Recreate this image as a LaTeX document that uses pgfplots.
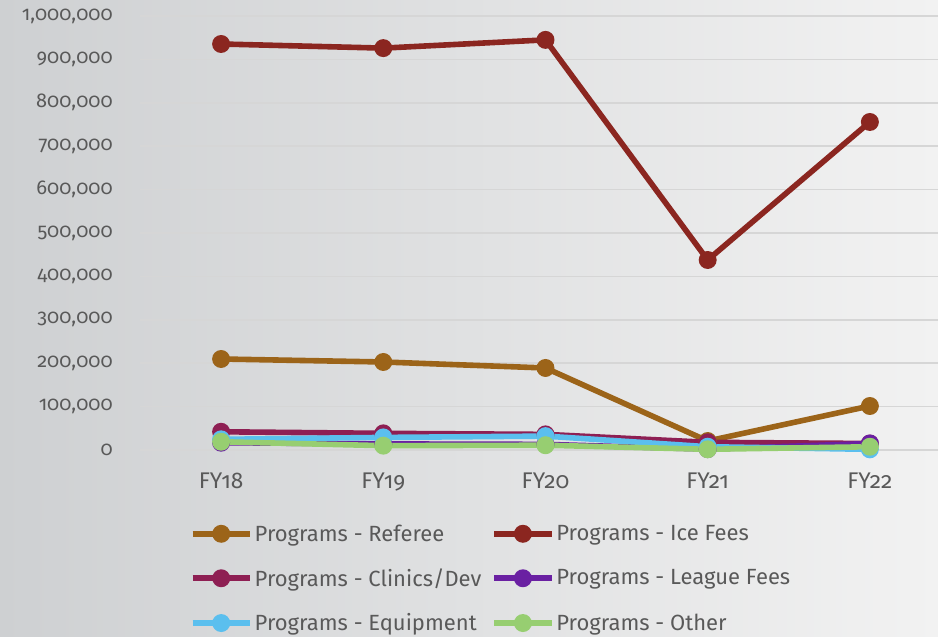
\documentclass[border=0pt]{standalone}
\usepackage{fontspec}
\setmainfont{Fira Sans}[Numbers=OldStyle]
\usepackage{pgfplots}
\pgfplotsset{compat=1.18}
\definecolor{txt}{HTML}{595959}
\definecolor{gridc}{HTML}{D6D6D6}
\definecolor{cRef}{HTML}{9C6419}
\definecolor{cIce}{HTML}{8B2620}
\definecolor{cCli}{HTML}{8E1F53}
\definecolor{cLea}{HTML}{6A20A2}
\definecolor{cEqu}{HTML}{5BBFEE}
\definecolor{cOth}{HTML}{97CE71}
\begin{document}
\begin{tikzpicture}
\useasboundingbox (0,0) rectangle (703.5pt,477pt);
\shade[left color={rgb,255:red,206;green,208;blue,210}, right color={rgb,255:red,242;green,242;blue,242}] (0,0) rectangle (703.5pt,477pt);
\begin{axis}[
  at={(105pt,139.5pt)}, anchor=south west,
  scale only axis, width=598.5pt, height=325.5pt,
  xmin=-0.5, xmax=4.42, ymin=0, ymax=1000000,
  axis line style={draw=none},
  clip=false,
  xtick={0,1,2,3,4},
  xticklabels={FY18,FY19,FY20,FY21,FY22},
  ytick={0,100000,200000,300000,400000,500000,600000,700000,800000,900000,1000000},
  yticklabels={0,{100,000},{200,000},{300,000},{400,000},{500,000},{600,000},{700,000},{800,000},{900,000},{1,000,000}},
  ymajorgrids=true, xmajorgrids=false,
  y grid style={color=gridc, line width=1.1pt},
  major tick length=0pt,
  scaled y ticks=false,
  tick label style={font=\fontsize{15}{18}\selectfont, text=txt},
  yticklabel style={xshift=-17pt},
  xticklabel style={yshift=-14pt, font=\fontsize{17}{20}\selectfont},
  every axis plot/.append style={line width=4.2pt, mark=*, mark size=4.6pt},
  legend columns=2,
  legend style={at={(axis description cs:0.062,-0.165)}, anchor=north west,
    draw=none, fill=none, font=\fontsize{16.5}{19}\selectfont, text=txt,
    inner sep=0pt, row sep=15pt,
    nodes={inner xsep=1.5pt},
    /tikz/every even column/.append style={column sep=6pt}},
  legend cell align=left,
  legend image code/.code={\draw[mark repeat=2,mark phase=2] plot coordinates {(0pt,0pt)(21.5pt,0pt)(43pt,0pt)};},
]
\addplot[cRef] table[x=x,y=y] {
x y
0 209700
1 202800
2 189000
3 20700
4 101400
};
\addlegendentry{Programs - Referee}
\addplot[cIce] table[x=x,y=y] {
x y
0 935500
1 926000
2 945000
3 437800
4 755800
};
\addlegendentry{Programs - Ice Fees}
\addplot[cCli] table[x=x,y=y] {
x y
0 42000
1 38400
2 36000
3 17700
4 15000
};
\addlegendentry{Programs - Clinics/Dev}
\addplot[cLea] table[x=x,y=y] {
x y
0 16800
1 14000
2 13000
3 2000
4 15000
};
\addlegendentry{Programs - League Fees}
\addplot[cEqu] table[x=x,y=y] {
x y
0 24600
1 29000
2 32000
3 7600
4 1500
};
\addlegendentry{Programs - Equipment}
\addplot[cOth] table[x=x,y=y] {
x y
0 19000
1 10000
2 11000
3 1600
4 7500
};
\addlegendentry{Programs - Other}
\end{axis}
\end{tikzpicture}
\end{document}
